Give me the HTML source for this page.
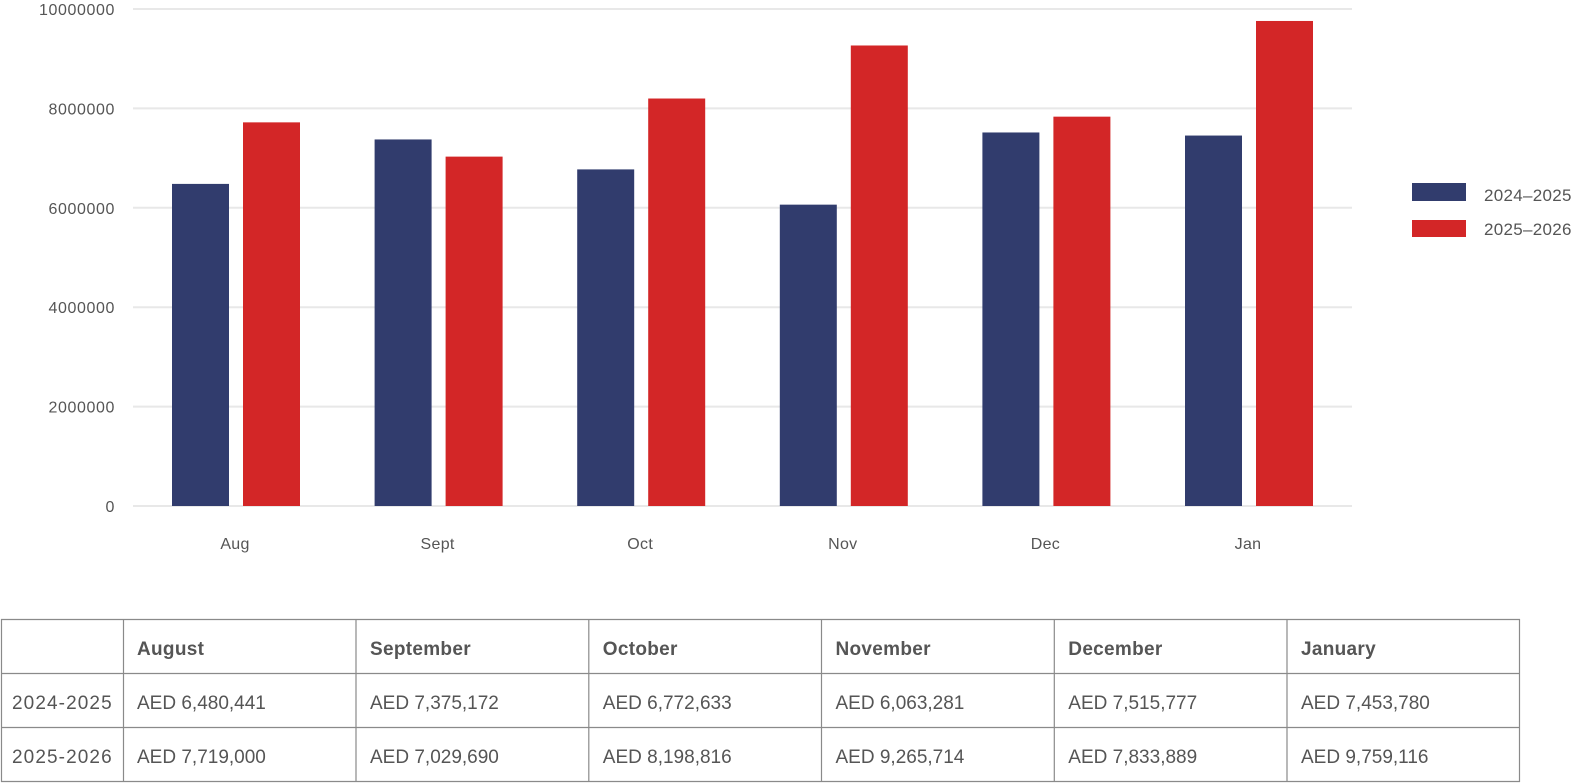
<!DOCTYPE html>
<html>
<head>
<meta charset="utf-8">
<style>
html,body{margin:0;padding:0;background:#fff;}
body{width:1574px;height:783px;overflow:hidden;}
svg{display:block;}
text{font-family:"Liberation Sans",Arial,sans-serif;fill:#555;}
</style>
</head>
<body>
<svg width="1574" height="783" viewBox="0 0 1574 783" xmlns="http://www.w3.org/2000/svg">
  <!-- gridlines -->
  <g stroke="#e8e8e8" stroke-width="2">
    <line x1="133" y1="9" x2="1352" y2="9"/>
    <line x1="133" y1="108.4" x2="1352" y2="108.4"/>
    <line x1="133" y1="207.8" x2="1352" y2="207.8"/>
    <line x1="133" y1="307.2" x2="1352" y2="307.2"/>
    <line x1="133" y1="406.6" x2="1352" y2="406.6"/>
    <line x1="133" y1="506" x2="1352" y2="506"/>
  </g>
  <!-- y labels -->
  <g font-size="16" text-anchor="end" letter-spacing="0.6">
    <text x="115" y="15">10000000</text>
    <text x="115" y="114.4">8000000</text>
    <text x="115" y="213.8">6000000</text>
    <text x="115" y="313.2">4000000</text>
    <text x="115" y="412.6">2000000</text>
    <text x="115" y="512">0</text>
  </g>
  <!-- bars -->
  <g fill="#313c6d">
    <rect x="172" y="183.9" width="57" height="322.1"/>
    <rect x="374.6" y="139.45" width="57" height="366.55"/>
    <rect x="577.2" y="169.4" width="57" height="336.6"/>
    <rect x="779.8" y="204.65" width="57" height="301.35"/>
    <rect x="982.4" y="132.47" width="57" height="373.53"/>
    <rect x="1185" y="135.55" width="57" height="370.45"/>
  </g>
  <g fill="#d32627">
    <rect x="243" y="122.36" width="57" height="383.64"/>
    <rect x="445.6" y="156.62" width="57" height="349.38"/>
    <rect x="648.2" y="98.52" width="57" height="407.48"/>
    <rect x="850.8" y="45.49" width="57" height="460.51"/>
    <rect x="1053.4" y="116.66" width="57" height="389.34"/>
    <rect x="1256" y="20.97" width="57" height="485.03"/>
  </g>
  <!-- x labels -->
  <g font-size="16" text-anchor="middle" letter-spacing="0.3">
    <text x="235" y="549">Aug</text>
    <text x="437.6" y="549">Sept</text>
    <text x="640.2" y="549">Oct</text>
    <text x="842.8" y="549">Nov</text>
    <text x="1045.4" y="549">Dec</text>
    <text x="1248" y="549">Jan</text>
  </g>
  <!-- legend -->
  <rect x="1412" y="183" width="54" height="18" fill="#313c6d"/>
  <rect x="1412" y="220" width="54" height="17" fill="#d32627"/>
  <g font-size="17" letter-spacing="0.3">
    <text x="1484" y="201">2024–2025</text>
    <text x="1484" y="235">2025–2026</text>
  </g>
  <!-- table -->
  <g stroke="#8a8a8a" stroke-width="1.2">
    <line x1="1" y1="619.5" x2="1520" y2="619.5"/>
    <line x1="1" y1="673.5" x2="1520" y2="673.5"/>
    <line x1="1" y1="727.5" x2="1520" y2="727.5"/>
    <line x1="1" y1="781.5" x2="1520" y2="781.5"/>
    <line x1="1.5" y1="619" x2="1.5" y2="782"/>
    <line x1="123.5" y1="619" x2="123.5" y2="782"/>
    <line x1="356" y1="619" x2="356" y2="782"/>
    <line x1="588.8" y1="619" x2="588.8" y2="782"/>
    <line x1="821.5" y1="619" x2="821.5" y2="782"/>
    <line x1="1054.3" y1="619" x2="1054.3" y2="782"/>
    <line x1="1287" y1="619" x2="1287" y2="782"/>
    <line x1="1519.5" y1="619" x2="1519.5" y2="782"/>
  </g>
  <g font-size="19" font-weight="bold" letter-spacing="0.3">
    <text x="137" y="655">August</text>
    <text x="370" y="655">September</text>
    <text x="602.8" y="655">October</text>
    <text x="835.5" y="655">November</text>
    <text x="1068.3" y="655">December</text>
    <text x="1301" y="655">January</text>
  </g>
  <g font-size="19" letter-spacing="1.1">
    <text x="12" y="709">2024-2025</text>
    <text x="12" y="763">2025-2026</text>
  </g>
  <g font-size="19">
    <text x="137" y="709">AED 6,480,441</text>
    <text x="370" y="709">AED 7,375,172</text>
    <text x="602.8" y="709">AED 6,772,633</text>
    <text x="835.5" y="709">AED 6,063,281</text>
    <text x="1068.3" y="709">AED 7,515,777</text>
    <text x="1301" y="709">AED 7,453,780</text>
    <text x="137" y="763">AED 7,719,000</text>
    <text x="370" y="763">AED 7,029,690</text>
    <text x="602.8" y="763">AED 8,198,816</text>
    <text x="835.5" y="763">AED 9,265,714</text>
    <text x="1068.3" y="763">AED 7,833,889</text>
    <text x="1301" y="763">AED 9,759,116</text>
  </g>
</svg>
</body>
</html>
